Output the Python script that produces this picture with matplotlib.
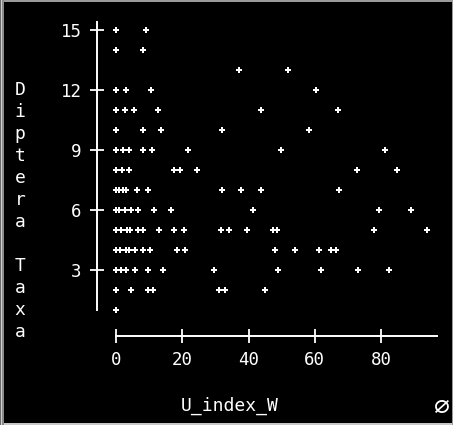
import matplotlib
matplotlib.use("Agg")
import matplotlib.pyplot as plt
from matplotlib.patches import Rectangle

# Diptera taxa counts against the U_index_W score, one list of x values per taxa level
taxa_levels = [15, 14, 13, 12, 11, 10, 9, 8, 7, 6, 5, 4, 3, 2, 1]
u_index_by_level = {
    15: [0, 9],
    14: [0, 8],
    13: [37, 52],
    12: [0, 3, 10.5, 60.5],
    11: [0, 2.7, 5.5, 12.8, 43.7, 67],
    10: [0, 8, 13.5, 32, 58.3],
    9: [0, 2, 4, 8, 11, 21.8, 49.7, 81.3],
    8: [0, 1.7, 3.9, 17.5, 19.2, 24.4, 72.7, 84.8],
    7: [0, 1, 2, 3, 6.2, 9.8, 32, 37.7, 43.7, 67.4],
    6: [0, 1, 2.6, 4.6, 6.5, 11.5, 16.5, 41.3, 79.3, 89],
    5: [0, 1.6, 3.2, 4.3, 6.7, 8.2, 13.1, 17.5, 20.6, 31.7, 34.1, 39.5,
        47.5, 48.5, 78, 94],
    4: [0, 1.2, 3, 4, 5.7, 8.2, 10.3, 18.3, 20.8, 48, 54, 61.3, 65, 66.5],
    3: [0, 1.6, 3.1, 5.7, 9.8, 14.1, 29.7, 49, 61.8, 73.2, 82.5],
    2: [0, 4.4, 9.6, 11.3, 31.2, 32.9, 45],
    1: [0],
}
x_ticks = [0, 20, 40, 60, 80]
y_ticks = [3, 6, 9, 12, 15]
x_title = "U_index_W"
y_title = "Diptera Taxa"

W, H = 453, 425
fig = plt.figure(figsize=(W / 100, H / 100), dpi=100, facecolor="black")

# axes box in pixel terms
left_px, right_px, top_px, bottom_px = 97, 440, 20, 340
ax = fig.add_axes([left_px / W, 1 - bottom_px / H,
                   (right_px - left_px) / W, (bottom_px - top_px) / H])
ax.set_facecolor("black")

x0_px, x_scale = 116, 3.3125      # pixels for x=0, pixels per unit
y15_px, y_scale = 30, 20          # pixels for y=15, pixels per unit
ax.set_xlim((left_px - x0_px) / x_scale, (right_px - x0_px) / x_scale)
ax.set_ylim(15 - (bottom_px - y15_px) / y_scale, 15 - (top_px - y15_px) / y_scale)

xs, ys = [], []
for lvl in taxa_levels:
    for v in u_index_by_level[lvl]:
        xs.append(v)
        ys.append(lvl)
ax.plot(xs, ys, linestyle="none", marker="P", markersize=4.2,
        markeredgewidth=0, color="white")

mono = "DejaVu Sans Mono"
for side in ("top", "right"):
    ax.spines[side].set_visible(False)
ax.spines["left"].set_color("white")
ax.spines["left"].set_linewidth(1.4)
ax.spines["left"].set_bounds(1.0, 15.4)
ax.spines["bottom"].set_color("white")
ax.spines["bottom"].set_linewidth(1.4)
ax.spines["bottom"].set_position(("data", 15 - (336 - y15_px) / y_scale))
ax.spines["bottom"].set_bounds(0, 97)

ax.set_xticks(x_ticks)
ax.set_yticks(y_ticks)
ax.set_xticklabels([str(t) for t in x_ticks], family=mono, fontsize=12.5, color="white")
ax.set_yticklabels([str(t) for t in y_ticks], family=mono, fontsize=12.5, color="white")
ax.tick_params(axis="both", direction="inout", length=10, width=1.3,
               color="white", pad=6)

# x axis title
fig.text(230 / W, 1 - 406 / H, x_title, family=mono, fontsize=13,
         color="white", ha="center", va="center")

# y axis title, stacked one letter per line
for i, ch in enumerate(y_title):
    if ch == " ":
        continue
    fig.text(20 / W, 1 - (90 + 22 * i) / H, ch, family=mono, fontsize=13,
             color="white", ha="center", va="center")

# small tool glyph in the lower right corner
fig.text(441 / W, 1 - 406 / H, "\u2300", family="DejaVu Sans", fontsize=19,
         color="white", ha="center", va="center")

# window frame
def frame(x, y, w, h, c):
    fig.add_artist(Rectangle((x / W, 1 - (y + h) / H), w / W, h / H,
                             transform=fig.transFigure, facecolor=c,
                             edgecolor="none", zorder=10))

frame(0, 0, W, 2, "#9a9a9a")
frame(0, H - 2, W, 2, "#c8c8c8")
frame(0, 0, 1, H, "#6a6a6a")
frame(1, 0, 1, H, "#d0d0d0")
frame(2, 0, 2, H, "#8a8a8a")
frame(W - 1, 0, 1, H, "#9a9a9a")

fig.savefig("out.png", dpi=100, facecolor="black")
